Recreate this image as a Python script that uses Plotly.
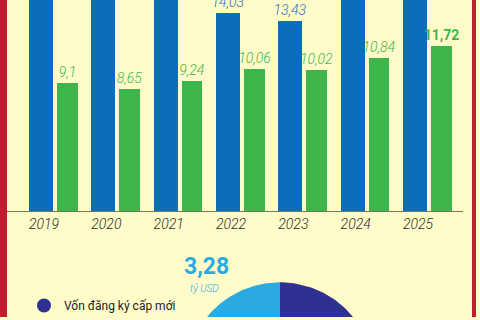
import numpy as np
import plotly.graph_objects as go

# ---- data ----
years = [2019, 2020, 2021, 2022, 2023, 2024, 2025]
registered = [18.47, 15.67, 15.27, 14.03, 13.43, 15.19, 21.52]   # vốn đăng ký (blue)
realized = [9.1, 8.65, 9.24, 10.06, 10.02, 10.84, 11.72]         # vốn thực hiện (green)
pie_labels = ["Vốn đăng ký cấp mới", "Vốn đăng ký điều chỉnh", "Góp vốn, mua cổ phần"]
pie_values = [11.72, 6.53, 3.28]
pie_colors = ["#2E3192", "#F7931E", "#29ABE2"]

BLUE = "#0A6EBA"
GREEN = "#3DB54A"
CREAM = "#FFFCC9"
RED = "#BE1E2D"
FONT = "Roboto"

def fmt(v):
    return f"{v:g}".replace(".", ",")

blue_text = [f"<i>{fmt(v)}</i>" for v in registered]
green_text = [f"<i>{fmt(v)}</i>" for v in realized[:-1]] + [f"<b>{fmt(realized[-1])}</b>"]

fig = go.Figure()
fig.add_trace(go.Bar(
    x=years, y=registered, width=0.385, offset=-0.241,
    marker=dict(color=BLUE, line=dict(width=0)),
    text=blue_text, textposition="outside", constraintext="none",
    textfont=dict(family=FONT, size=14, color="#1F6FB8", weight=300),
    showlegend=False, xaxis="x", yaxis="y",
))
fig.add_trace(go.Bar(
    x=years, y=realized, width=0.329, offset=0.209,
    marker=dict(color=GREEN, line=dict(width=0)),
    text=green_text, textposition="outside", constraintext="none",
    textfont=dict(family=FONT, size=14, color=GREEN, weight=300),
    showlegend=False, xaxis="x", yaxis="y",
))

# ---- pie drawn as filled wedges on its own axes (partly outside the view) ----
total = sum(pie_values)
cum = 0.0
for lab, val, col in zip(pie_labels, pie_values, pie_colors):
    s, e = cum / total, (cum + val) / total
    cum += val
    t = np.radians(90 - 360 * np.linspace(s, e, 120))
    xs = np.concatenate([[0], np.cos(t), [0]])
    ys = np.concatenate([[0], np.sin(t), [0]])
    fig.add_trace(go.Scatter(
        x=xs, y=ys, mode="lines", fill="toself", fillcolor=col,
        line=dict(width=0, color=col), showlegend=False,
        hoverinfo="skip", xaxis="x2", yaxis="y2",
    ))

# legend key
fig.add_trace(go.Scatter(
    x=[None], y=[None], mode="markers", name=pie_labels[0],
    marker=dict(color=pie_colors[0], size=14, line=dict(width=0)),
    xaxis="x2", yaxis="y2", showlegend=True,
))

fig.add_annotation(
    x=206 / 480, y=1 - 269 / 320, xref="paper", yref="paper",
    xanchor="center", yanchor="middle",
    text=f"<b>{fmt(pie_values[2])}</b>", showarrow=False,
    font=dict(family=FONT, size=23, color="#29ABE2", weight=900),
)
fig.add_annotation(
    x=204 / 480, y=1 - 291 / 320, xref="paper", yref="paper",
    xanchor="center", yanchor="middle",
    text="<i>tỷ USD</i>", showarrow=False,
    font=dict(family=FONT, size=10, color="#29ABE2", weight=300),
)

# red side borders
fig.add_shape(type="rect", xref="paper", yref="paper", x0=0, x1=7 / 480,
              y0=0, y1=1, fillcolor=RED, line=dict(width=0), layer="above")
fig.add_shape(type="rect", xref="paper", yref="paper", x0=472 / 480, x1=476 / 480,
              y0=0, y1=1, fillcolor=RED, line=dict(width=0), layer="above")

fig.update_layout(
    width=480, height=320,
    margin=dict(l=0, r=0, t=0, b=0),
    paper_bgcolor=CREAM, plot_bgcolor="rgba(0,0,0,0)",
    barmode="overlay", bargap=0,
    font=dict(family=FONT, color="#333333"),
    xaxis=dict(
        domain=[7 / 480, 463 / 480], range=[2018.406, 2025.722],
        tickmode="array", tickvals=years, ticktext=[str(y) for y in years],
        tickfont=dict(family=FONT, size=14, color="#2b2b2b", style="italic", weight=300),
        showline=True, linecolor="#77775a", linewidth=1,
        showgrid=False, zeroline=False, ticks="", anchor="y",
        fixedrange=True,
    ),
    yaxis=dict(
        domain=[107 / 320, 1], range=[0, 14.95],
        visible=False, showgrid=False, zeroline=False, anchor="x",
    ),
    xaxis2=dict(domain=[0, 1], range=[-280 / 94, 200 / 94], visible=False, anchor="y2"),
    yaxis2=dict(domain=[0, 1], range=[(379 - 320) / 94, 379 / 94], visible=False, anchor="x2"),
    legend=dict(
        x=24 / 480, y=1 - 294 / 320, xanchor="left", yanchor="top",
        bgcolor="rgba(0,0,0,0)", font=dict(family=FONT, size=12, color="#222222"),
        itemwidth=30,
    ),
)

fig.write_html("out.html")
